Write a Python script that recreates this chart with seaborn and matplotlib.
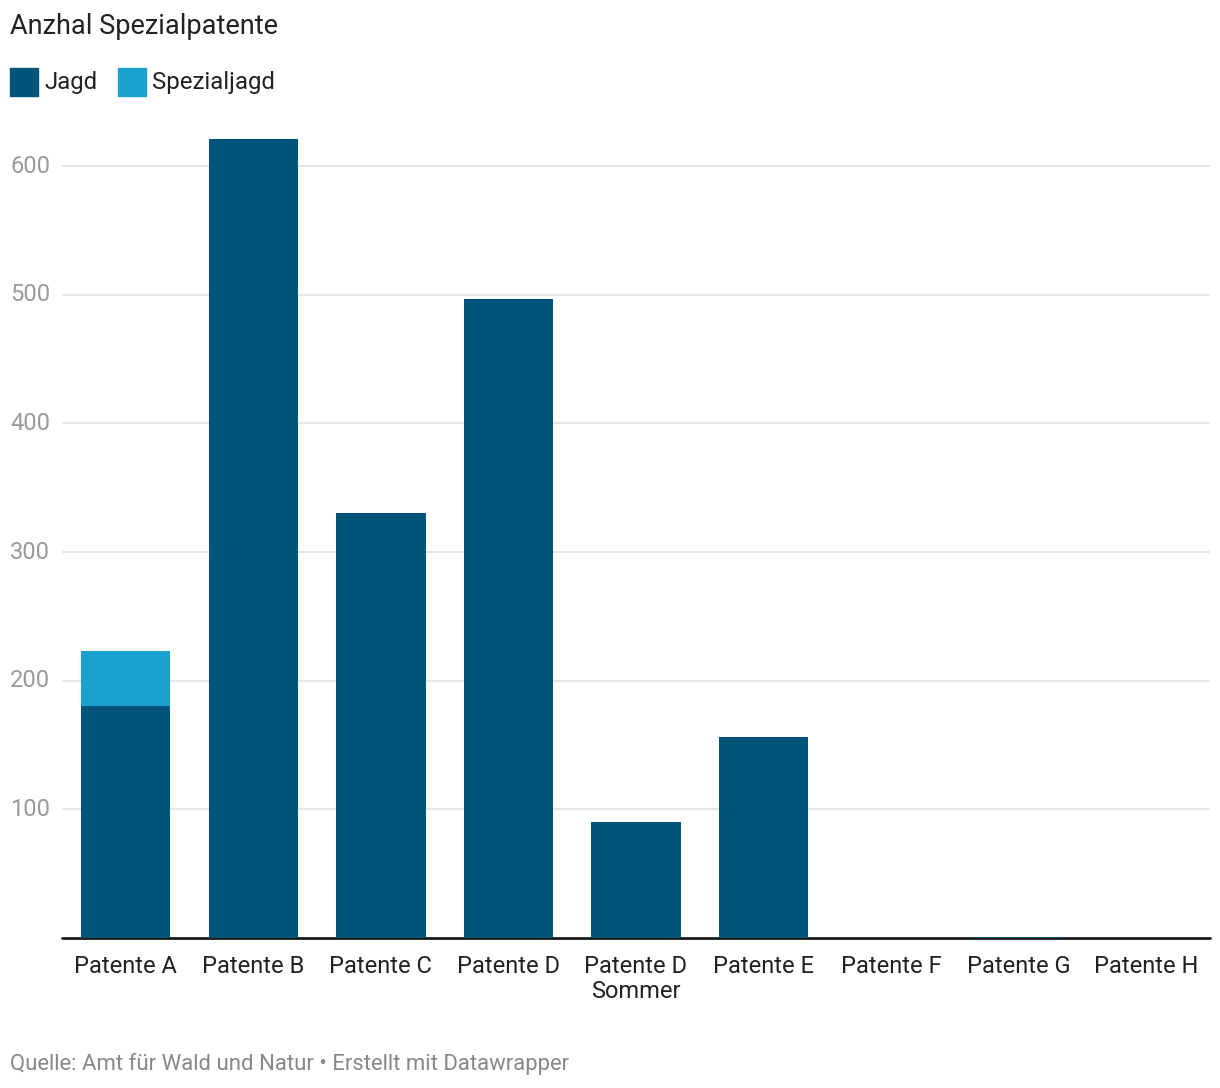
import pandas as pd
import matplotlib
matplotlib.use("Agg")
import matplotlib.pyplot as plt
from matplotlib.patches import Rectangle
import seaborn as sns

# ── Data ───────────────────────────────────────────────────────────────────
categories = ["Patente A", "Patente B", "Patente C", "Patente D", "Patente D\nSommer",
              "Patente E", "Patente F", "Patente G", "Patente H"]
jagd = [180, 621, 330, 497, 90, 156, 0, 1, 0]
spezialjagd = [43, 0, 0, 0, 0, 0, 0, 0, 0]
y_ticks = [100, 200, 300, 400, 500, 600]

JAGD_COLOR = "#03547A"
SPEZ_COLOR = "#1BA1CE"

sns.set_theme(style="white")
plt.rcParams["font.family"] = ["Roboto", "DejaVu Sans"]

df = pd.DataFrame({"cat": categories, "jagd": jagd, "spez": spezialjagd})
df["total"] = df["jagd"] + df["spez"]

W, H = 1220, 1088
fig = plt.figure(figsize=(W / 100, H / 100), dpi=100)
ax = fig.add_axes([62 / W, 150 / H, 1148 / W, (938 - 134) / H])

# stacked: total first, then Jagd on top of it
sns.barplot(data=df, x="cat", y="total", color=SPEZ_COLOR, width=0.7,
            saturation=1, linewidth=0, ax=ax, zorder=5)
sns.barplot(data=df, x="cat", y="jagd", color=JAGD_COLOR, width=0.7,
            saturation=1, linewidth=0, ax=ax, zorder=6)

ax.set_ylim(0, 625)
ax.set_xlim(-0.5, len(categories) - 0.5)
ax.set_xlabel("")
ax.set_ylabel("")
ax.set_clip_on(False)
for s in ax.spines.values():
    s.set_visible(False)

# gridlines and y labels (datawrapper style, labels inside on the left)
for t in y_ticks:
    ax.axhline(t, color="#e2e2e2", lw=1.2, zorder=1)
    ax.text(-52 / 1148, t, str(t), transform=ax.get_yaxis_transform(),
            ha="left", va="center", fontsize=17, color="#9a9a9a")
ax.set_yticks([])
ax.axhline(0, color="#1a1a1a", lw=2, zorder=4, clip_on=False)

ax.tick_params(axis="x", length=0, pad=12, labelsize=17, labelcolor="#222222")
ax.set_xticks(range(len(categories)))
ax.set_xticklabels(categories, va="top", linespacing=1.15)

# Title
fig.text(10 / W, 1 - 27 / H, "Anzhal Spezialpatente", ha="left", va="center",
         fontsize=19.5, color="#222222")

# Legend
for x0, col, lab in [(10, JAGD_COLOR, "Jagd"), (118, SPEZ_COLOR, "Spezialjagd")]:
    fig.patches.append(Rectangle((x0 / W, 1 - 96 / H), 28 / W, 28 / H,
                                 transform=fig.transFigure, color=col))
    fig.text((x0 + 34) / W, 1 - 82 / H, lab, ha="left", va="center",
             fontsize=17.3, color="#222222")

# Footer
fig.text(10 / W, 1 - 1064 / H, "Quelle: Amt für Wald und Natur • Erstellt mit Datawrapper",
         ha="left", va="center", fontsize=15.9, color="#888888")

fig.savefig("out.png", dpi=100, facecolor="white")
